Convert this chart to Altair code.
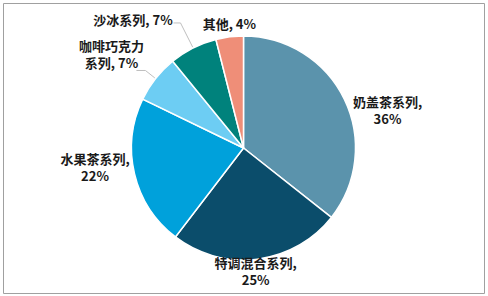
import altair as alt
import pandas as pd

categories = ["奶盖茶系列", "特调混合系列", "水果茶系列", "咖啡巧克力系列", "沙冰系列", "其他"]
shares = [36, 25, 22, 7, 7, 4]
label_texts = ["奶盖茶系列,\n36%", "特调混合系列,\n25%", "水果茶系列,\n22%",
               "咖啡巧克力\n系列, 7%", "沙冰系列, 7%", "其他, 4%"]
colors = ["#5B93AC", "#0B4D6B", "#00A1DB", "#6DCDF3", "#00827C", "#EF8E78"]

df = pd.DataFrame({"cat": categories, "share": shares, "label": label_texts,
                   "idx": list(range(len(categories)))})

W, H = 481, 290
CX, CY = W / 2, H / 2
R = 112
FONT = "Noto Sans CJK SC"

base = alt.Chart(df).encode(
    theta=alt.Theta("share:Q", stack=True),
    order=alt.Order("idx:Q"),
)

pie = base.mark_arc(radius=R, stroke="white", strokeWidth=1.5).encode(
    color=alt.Color("cat:N", scale=alt.Scale(domain=categories, range=colors), legend=None)
)

# label layout (offsets from the mid-angle anchor at radius 130; first line sits at anchor)
label_offsets = {
    "奶盖茶系列": (27, 12),
    "特调混合系列": (-4, -13),
    "水果茶系列": (-22, -18),
    "咖啡巧克力系列": (-30, -20),
    "沙冰系列": (-52, -11),
    "其他": (2, 6),
}

text_layers = []
for cat, (dx, dy) in label_offsets.items():
    text_layers.append(
        base.mark_text(radius=130, dx=dx, dy=dy, font=FONT, fontSize=13, fontWeight="bold",
                       color="#1a1a1a", lineBreak="\n", lineHeight=17,
                       align="center", baseline="middle").encode(
            text=alt.condition(alt.datum.cat == cat, alt.Text("label:N"), alt.value(""))
        )
    )

angles = alt.Chart(df).transform_joinaggregate(total="sum(share)").transform_window(
    cum="sum(share)", sort=[alt.SortField("idx")], frame=[None, 0]
).transform_calculate(mid="(datum.cum - datum.share/2)/datum.total*2*PI")


def leader(cat, r1, r2, hlen):
    seg = angles.transform_filter(alt.datum.cat == cat).transform_calculate(
        x1=f"{CX} + {r1}*sin(datum.mid)", y1=f"{CY} - {r1}*cos(datum.mid)",
        xe=f"{CX} + {r2}*sin(datum.mid)", ye=f"{CY} - {r2}*cos(datum.mid)",
        xh=f"{CX} + {r2}*sin(datum.mid) - {hlen}",
    )
    radial = seg.mark_rule(color="#BFBFBF", strokeWidth=1).encode(
        x=alt.X("x1:Q", scale=None, axis=None), y=alt.Y("y1:Q", scale=None, axis=None),
        x2="xe:Q", y2="ye:Q")
    horiz = seg.mark_rule(color="#BFBFBF", strokeWidth=1).encode(
        x=alt.X("xe:Q", scale=None, axis=None), y=alt.Y("ye:Q", scale=None, axis=None),
        x2="xh:Q")
    return [radial, horiz]


leaders = leader("沙冰系列", 113, 140, 7) + leader("咖啡巧克力系列", 113, 125, 9)

chart = alt.layer(pie, *leaders, *text_layers).properties(
    width=W, height=H,
    padding={"left": 3, "top": 3, "right": 4, "bottom": 3},
    autosize=alt.AutoSizeParams(type="none"),
    background="white",
).configure_view(stroke="#A0A0A0", strokeWidth=1)

chart.save("out.html", embed_options={"renderer": "svg", "actions": False})
